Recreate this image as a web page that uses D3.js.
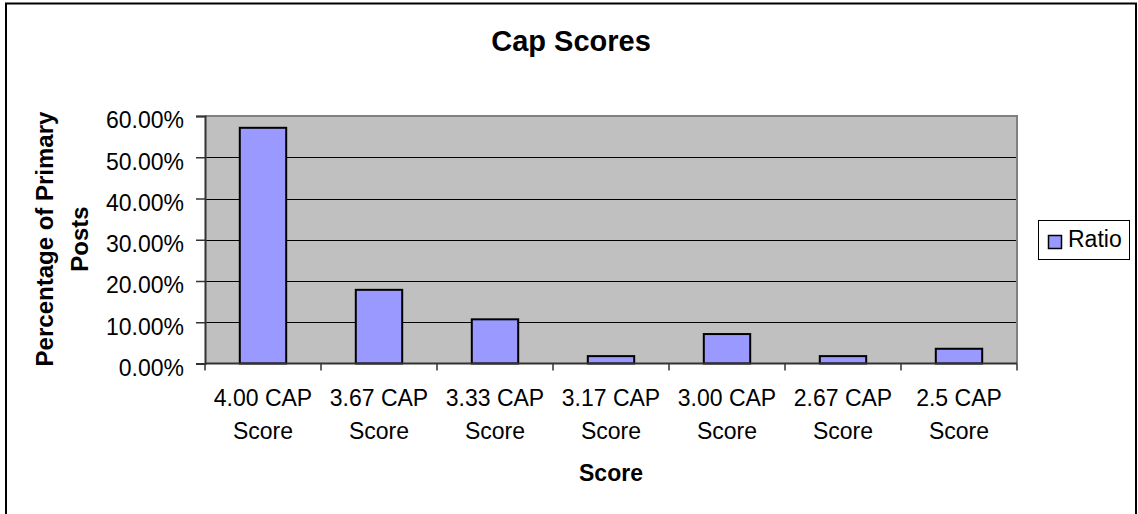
<!DOCTYPE html>
<html>
<head>
<meta charset="utf-8">
<script src="https://cdn.jsdelivr.net/npm/d3@7"></script>
<style>
  body { margin: 0; background: #fff; }
  text { font-family: "Liberation Sans", Arial, sans-serif; fill: #000; }
</style>
</head>
<body>
<svg width="1138" height="514"></svg>
<script>
var svg = d3.select("svg");

// data
var categories = ["4.00 CAP Score", "3.67 CAP Score", "3.33 CAP Score", "3.17 CAP Score",
                  "3.00 CAP Score", "2.67 CAP Score", "2.5 CAP Score"];
var ratio = [0.5714, 0.1786, 0.1071, 0.0179, 0.0714, 0.0179, 0.0357];
var yTicks = [0, 0.1, 0.2, 0.3, 0.4, 0.5, 0.6];

const plotLeft = 205, plotRight = 1017, plotTop = 116, plotBottom = 363.5;
const barFill = "#9999FF";

// outer chart border
svg.append("rect")
  .attr("x", 6).attr("y", 3.5)
  .attr("width", 1130).attr("height", 530)
  .attr("fill", "none")
  .attr("stroke", "#000")
  .attr("stroke-width", 2);

var x = d3.scaleBand()
  .domain(categories)
  .range([plotLeft, plotRight])
  .paddingInner(0.6)
  .paddingOuter(0.3);

var y = d3.scaleLinear()
  .domain([0, 0.6])
  .range([plotBottom, plotTop]);

// plot background
svg.append("rect")
  .attr("x", plotLeft).attr("y", plotTop)
  .attr("width", plotRight - plotLeft).attr("height", plotBottom - plotTop)
  .attr("fill", "#C0C0C0");

// gridlines
svg.append("g")
  .selectAll("line")
  .data(yTicks.slice(1, -1))
  .enter()
  .append("line")
  .attr("x1", plotLeft).attr("x2", plotRight)
  .attr("y1", d => Math.round(y(d)) + 0.5)
  .attr("y2", d => Math.round(y(d)) + 0.5)
  .attr("stroke", "#000")
  .attr("stroke-width", 1);

// plot border top/right
svg.append("path")
  .attr("d", "M" + plotLeft + "," + plotTop + "H" + plotRight + "V" + plotBottom)
  .attr("fill", "none")
  .attr("stroke", "#808080")
  .attr("stroke-width", 2);

// bars
svg.append("g")
  .selectAll("rect")
  .data(ratio)
  .enter()
  .append("rect")
  .attr("x", (d, i) => x(categories[i]))
  .attr("y", d => y(d))
  .attr("width", x.bandwidth())
  .attr("height", d => plotBottom - y(d))
  .attr("fill", barFill)
  .attr("stroke", "#000")
  .attr("stroke-width", 2);

// y axis
var yAxis = d3.axisLeft(y)
  .tickValues(yTicks)
  .tickSize(9)
  .tickPadding(12)
  .tickFormat(d3.format(".2%"));

var yg = svg.append("g")
  .attr("transform", "translate(" + plotLeft + ",0)")
  .call(yAxis);
yg.select(".domain").attr("stroke", "#333").attr("stroke-width", 2);
yg.selectAll(".tick line").attr("stroke", "#333").attr("stroke-width", 1.5);
yg.selectAll(".tick text")
  .attr("font-size", 23)
  .attr("dy", "0.52em")
  .style("font-family", "'Liberation Sans', Arial, sans-serif");

// x axis: ticks at band boundaries
var gap = x.step() - x.bandwidth();
var xBounds = categories.map(c => x(c) - gap / 2).concat([plotRight]);
svg.append("line")
  .attr("x1", plotLeft).attr("x2", plotRight)
  .attr("y1", plotBottom).attr("y2", plotBottom)
  .attr("stroke", "#333").attr("stroke-width", 2);
svg.append("g")
  .selectAll("line")
  .data(xBounds)
  .enter()
  .append("line")
  .attr("x1", d => d).attr("x2", d => d)
  .attr("y1", plotBottom).attr("y2", plotBottom + 7)
  .attr("stroke", "#333").attr("stroke-width", 1.5);

// x labels, two lines
var xl = svg.append("g")
  .selectAll("text")
  .data(categories)
  .enter()
  .append("text")
  .attr("text-anchor", "middle")
  .attr("font-size", 23)
  .attr("x", d => x(d) + x.bandwidth() / 2);
xl.append("tspan")
  .attr("x", d => x(d) + x.bandwidth() / 2)
  .attr("y", 406)
  .text(d => d.replace(" Score", ""));
xl.append("tspan")
  .attr("x", d => x(d) + x.bandwidth() / 2)
  .attr("y", 439)
  .text("Score");

// title
svg.append("text")
  .attr("x", 571).attr("y", 51)
  .attr("text-anchor", "middle")
  .attr("font-size", 29)
  .attr("font-weight", "bold")
  .text("Cap Scores");

// x axis title
svg.append("text")
  .attr("x", (plotLeft + plotRight) / 2).attr("y", 481)
  .attr("text-anchor", "middle")
  .attr("font-size", 23)
  .attr("font-weight", "bold")
  .text("Score");

// y axis title
var yt = svg.append("text")
  .attr("transform", "translate(0,239) rotate(-90)")
  .attr("text-anchor", "middle")
  .attr("font-size", 24)
  .attr("font-weight", "bold");
yt.append("tspan").attr("x", 0).attr("y", 53).text("Percentage of Primary");
yt.append("tspan").attr("x", 0).attr("y", 88).text("Posts");

// legend
var legend = svg.append("g");
legend.append("rect")
  .attr("x", 1038.5).attr("y", 220.5)
  .attr("width", 91).attr("height", 39)
  .attr("fill", "#fff")
  .attr("stroke", "#000")
  .attr("stroke-width", 1);
legend.append("rect")
  .attr("x", 1048.5).attr("y", 235.5)
  .attr("width", 13).attr("height", 13)
  .attr("fill", barFill)
  .attr("stroke", "#000")
  .attr("stroke-width", 1.5);
legend.append("text")
  .attr("x", 1068).attr("y", 247)
  .attr("font-size", 23)
  .text("Ratio");
</script>
</body>
</html>
